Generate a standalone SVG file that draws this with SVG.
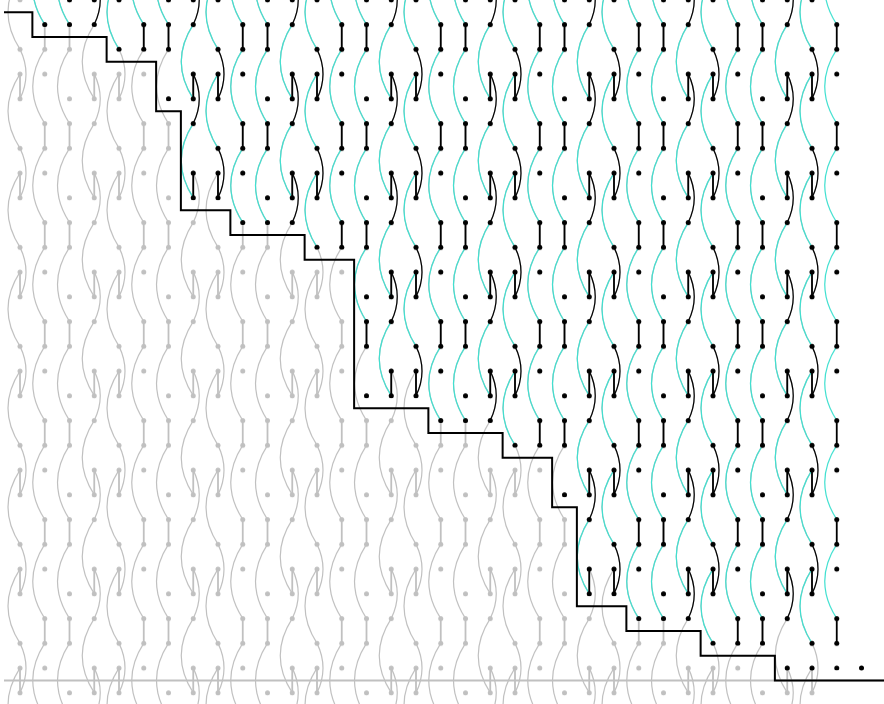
<svg xmlns="http://www.w3.org/2000/svg" xmlns:xlink="http://www.w3.org/1999/xlink" width="884" height="704" viewBox="0 0 884 704">
<defs>
<style>
.cy{fill:none;stroke-width:1.2}
.bk{fill:none;stroke-width:1.2}
.vt{fill:none;stroke-width:1.8}
.pc{fill:url(#pC)}
.pb{fill:url(#pB)}
.pd{fill:url(#pD)}
</style>
<path id="cyP" d="M16 -37.125c-16 24.75-16 49.5 0 74.25M16 61.875c-16 24.75-16 49.5 0 74.25M40.75 -61.875c-16 24.75-16 49.5 0 74.25M40.75 37.125c-16 24.75-16 49.5 0 74.25M65.5 -61.875c-16 24.75-16 49.5 0 74.25M65.5 37.125c-16 24.75-16 49.5 0 74.25M90.25 12.375c-16 24.75-16 49.5 0 74.25"/>
<path id="bkP" d="M16 37.125c8 16.5 8 33 0 49.5M90.25 -37.125c8 16.5 8 33 0 49.5M90.25 61.875c8 16.5 8 33 0 49.5"/>
<path id="vtP" d="M16 61.875V86.625M40.75 12.375V37.125M65.5 12.375V37.125M90.25 61.875V86.625"/>
<g id="dtP">
<circle cx="16" cy="37.125" r="2.5"/><circle cx="16" cy="61.875" r="2.5"/><circle cx="16" cy="86.625" r="2.5"/>
<circle cx="40.75" cy="12.375" r="2.5"/><circle cx="40.75" cy="37.125" r="2.5"/><circle cx="40.75" cy="61.875" r="2.5"/>
<circle cx="65.5" cy="12.375" r="2.5"/><circle cx="65.5" cy="37.125" r="2.5"/><circle cx="65.5" cy="86.625" r="2.5"/>
<circle cx="90.25" cy="12.375" r="2.5"/><circle cx="90.25" cy="61.875" r="2.5"/><circle cx="90.25" cy="86.625" r="2.5"/>
</g>
<pattern id="pG" patternUnits="userSpaceOnUse" x="4" y="12.125" width="99" height="99">
<use href="#cyP" class="cy" stroke="#c0c0c0"/>
<use href="#bkP" class="bk" stroke="#c0c0c0"/>
<use href="#vtP" class="vt" stroke="#c0c0c0"/>
<use href="#dtP" fill="#c0c0c0"/>
</pattern>
<pattern id="pC" patternUnits="userSpaceOnUse" x="4" y="12.125" width="99" height="99">
<use href="#cyP" class="cy" stroke="#40e0d0"/>
</pattern>
<pattern id="pB" patternUnits="userSpaceOnUse" x="4" y="12.125" width="99" height="99">
<use href="#bkP" class="bk" stroke="#000"/>
</pattern>
<pattern id="pD" patternUnits="userSpaceOnUse" x="4" y="12.125" width="99" height="99">
<use href="#vtP" class="vt" stroke="#000"/>
<use href="#dtP" fill="#000"/>
</pattern>
</defs>
<rect width="884" height="704" fill="#fff"/>
<g id="gray-lattice">
<rect x="6" y="0" width="818" height="704" fill="url(#pG)"/>
</g>
<g id="cyan-arcs">
<rect class="pc" x="29.75" y="-5" width="18" height="31"/>
<rect class="pc" x="54.5" y="-5" width="18" height="31"/>
<rect class="pc" x="79.25" y="-5" width="18" height="6.25"/>
<rect class="pc" x="104" y="-5" width="18" height="55.75"/>
<rect class="pc" x="128.75" y="-5" width="18" height="31"/>
<rect class="pc" x="153.5" y="-5" width="18" height="31"/>
<rect class="pc" x="178.25" y="-5" width="18" height="204.25"/>
<rect class="pc" x="203" y="-5" width="18" height="154.75"/>
<rect class="pc" x="227.75" y="-5" width="18" height="229"/>
<rect class="pc" x="252.5" y="-5" width="18" height="229"/>
<rect class="pc" x="277.25" y="-5" width="18" height="204.25"/>
<rect class="pc" x="302" y="-5" width="18" height="253.75"/>
<rect class="pc" x="326.75" y="-5" width="18" height="229"/>
<rect class="pc" x="351.5" y="-5" width="18" height="328"/>
<rect class="pc" x="376.25" y="-5" width="18" height="402.25"/>
<rect class="pc" x="401" y="-5" width="18" height="352.75"/>
<rect class="pc" x="425.75" y="-5" width="18" height="427"/>
<rect class="pc" x="450.5" y="-5" width="18" height="427"/>
<rect class="pc" x="475.25" y="-5" width="18" height="402.25"/>
<rect class="pc" x="500" y="-5" width="18" height="451.75"/>
<rect class="pc" x="524.75" y="-5" width="18" height="427"/>
<rect class="pc" x="549.5" y="-5" width="18" height="427"/>
<rect class="pc" x="574.25" y="-5" width="18" height="600.25"/>
<rect class="pc" x="599" y="-5" width="18" height="550.75"/>
<rect class="pc" x="623.75" y="-5" width="18" height="625"/>
<rect class="pc" x="648.5" y="-5" width="18" height="625"/>
<rect class="pc" x="673.25" y="-5" width="18" height="600.25"/>
<rect class="pc" x="698" y="-5" width="18" height="649.75"/>
<rect class="pc" x="722.75" y="-5" width="18" height="625"/>
<rect class="pc" x="747.5" y="-5" width="18" height="625"/>
<rect class="pc" x="772.25" y="-5" width="18" height="600.25"/>
<rect class="pc" x="797" y="-5" width="18" height="649.75"/>
<rect class="pc" x="821.75" y="-5" width="18" height="625"/>
</g>
<g id="black-arcs">
<rect class="pb" x="91.25" y="-5" width="14" height="31"/>
<rect class="pb" x="116" y="-5" width="14" height="6.25"/>
<rect class="pb" x="190.25" y="-5" width="14" height="130"/>
<rect class="pb" x="215" y="-5" width="14" height="204.25"/>
<rect class="pb" x="289.25" y="-5" width="14" height="229"/>
<rect class="pb" x="314" y="-5" width="14" height="204.25"/>
<rect class="pb" x="388.25" y="-5" width="14" height="328"/>
<rect class="pb" x="413" y="-5" width="14" height="402.25"/>
<rect class="pb" x="487.25" y="-5" width="14" height="427"/>
<rect class="pb" x="512" y="-5" width="14" height="402.25"/>
<rect class="pb" x="586.25" y="-5" width="14" height="526"/>
<rect class="pb" x="611" y="-5" width="14" height="600.25"/>
<rect class="pb" x="685.25" y="-5" width="14" height="625"/>
<rect class="pb" x="710" y="-5" width="14" height="600.25"/>
<rect class="pb" x="784.25" y="-5" width="14" height="625"/>
<rect class="pb" x="809" y="-5" width="14" height="600.25"/>
</g>
<g id="black-dots">
<rect class="pd" x="40.75" y="-5" width="8" height="31.95"/>
<rect class="pd" x="65.5" y="-5" width="8" height="31.95"/>
<rect class="pd" x="90.25" y="-5" width="8" height="31.95"/>
<rect class="pd" x="115" y="-5" width="8" height="56.7"/>
<rect class="pd" x="139.75" y="-5" width="8" height="56.7"/>
<rect class="pd" x="164.5" y="-5" width="8" height="106.2"/>
<rect class="pd" x="189.25" y="-5" width="8" height="205.2"/>
<rect class="pd" x="214" y="-5" width="8" height="205.2"/>
<rect class="pd" x="238.75" y="-5" width="8" height="229.95"/>
<rect class="pd" x="263.5" y="-5" width="8" height="229.95"/>
<rect class="pd" x="288.25" y="-5" width="8" height="229.95"/>
<rect class="pd" x="313" y="-5" width="8" height="254.7"/>
<rect class="pd" x="337.75" y="-5" width="8" height="254.7"/>
<rect class="pd" x="362.5" y="-5" width="8" height="403.2"/>
<rect class="pd" x="387.25" y="-5" width="8" height="403.2"/>
<rect class="pd" x="412" y="-5" width="8" height="403.2"/>
<rect class="pd" x="436.75" y="-5" width="8" height="427.95"/>
<rect class="pd" x="461.5" y="-5" width="8" height="427.95"/>
<rect class="pd" x="486.25" y="-5" width="8" height="427.95"/>
<rect class="pd" x="511" y="-5" width="8" height="452.7"/>
<rect class="pd" x="535.75" y="-5" width="8" height="452.7"/>
<rect class="pd" x="560.5" y="-5" width="8" height="502.2"/>
<rect class="pd" x="585.25" y="-5" width="8" height="601.2"/>
<rect class="pd" x="610" y="-5" width="8" height="601.2"/>
<rect class="pd" x="634.75" y="-5" width="8" height="625.95"/>
<rect class="pd" x="659.5" y="-5" width="8" height="625.95"/>
<rect class="pd" x="684.25" y="-5" width="8" height="625.95"/>
<rect class="pd" x="709" y="-5" width="8" height="650.7"/>
<rect class="pd" x="733.75" y="-5" width="8" height="650.7"/>
<rect class="pd" x="758.5" y="-5" width="8" height="650.7"/>
<rect class="pd" x="783.25" y="-5" width="8" height="675.45"/>
<rect class="pd" x="808" y="-5" width="8" height="675.45"/>
<rect class="pd" x="832.75" y="-5" width="8" height="675.45"/>
<circle cx="861.5" cy="668" r="2.5" fill="#000"/>
</g>
<g id="baseline">
<path d="M4 680.375H884" stroke="#c0c0c0" stroke-width="2" fill="none"/>
</g>
<g id="staircase">
<path d="M4 12.125H32.375V36.875H106.625V61.625H156.125V111.125H180.875V210.125H230.375V234.875H304.625V259.625H354.125V408.125H428.375V432.875H502.625V457.625H552.125V507.125H576.875V606.125H626.375V630.875H700.625V655.625H774.875V680.375H884" stroke="#000" stroke-width="2" fill="none"/>
</g>
</svg>
